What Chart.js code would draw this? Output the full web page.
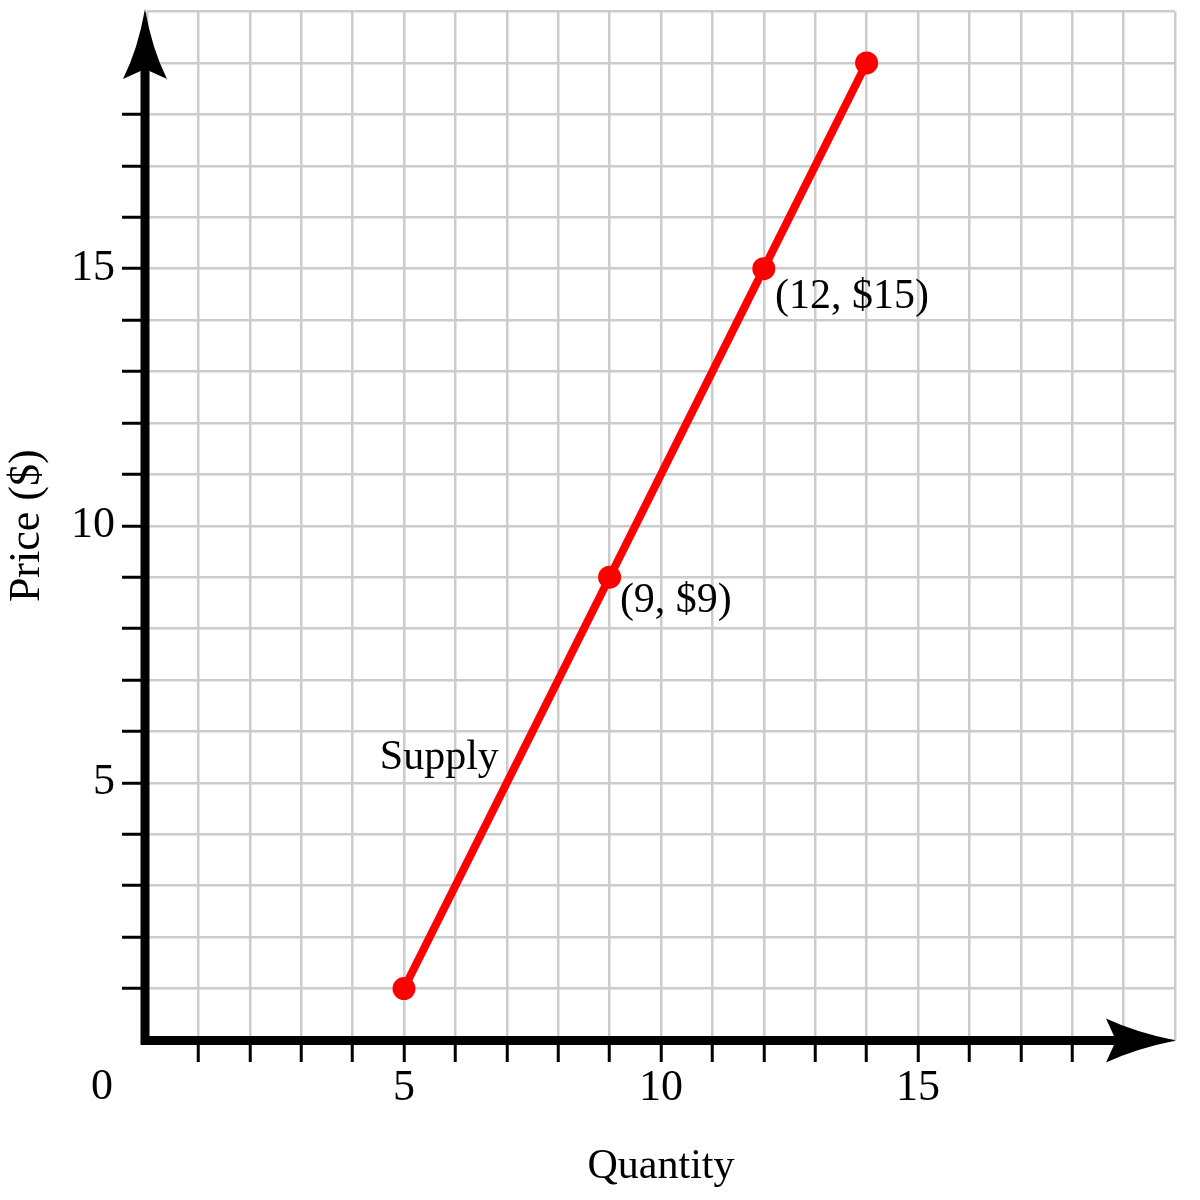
<!DOCTYPE html>
<html><head><meta charset="utf-8">
<script src="https://cdn.jsdelivr.net/npm/chart.js@4"></script>
<style>html,body{margin:0;padding:0;background:#fff}#wrap{width:1200px;height:1200px}</style>
</head><body><div id="wrap"><canvas id="c" width="1200" height="1200"></canvas></div>
<script>
const quantity = [5, 9, 12, 14];
const price = [1, 9, 15, 19];
const xTickLabels = [5, 10, 15];
const yTickLabels = [5, 10, 15];
const annotationText = ['Supply', '(9, $9)', '(12, $15)'];
const annotationX = [4.53, 9.2, 12.22];
const annotationY = [5.49, 8.54, 14.45];
const xTitle = 'Quantity';
const yTitle = 'Price ($)';
const originLabel = '0';

const FONT = '"Liberation Serif", "Times New Roman", serif';

const axesPlugin = {
  id: 'axesArrows',
  afterDatasetsDraw(chart) {
    const {ctx, scales: {x, y}} = chart;
    const x0 = x.getPixelForValue(0) - 2;
    const y0 = y.getPixelForValue(0) + 0.5;
    const xTip = x.getPixelForValue(20) + 1;
    const yTip = y.getPixelForValue(20) - 2.5;
    const L = 70, N = 60, W = 22;
    ctx.save();
    ctx.strokeStyle = '#000';
    ctx.fillStyle = '#000';
    ctx.lineWidth = 9;
    ctx.lineCap = 'butt';
    ctx.beginPath();
    ctx.moveTo(x0, yTip + N);
    ctx.lineTo(x0, y0 + 4.5);
    ctx.moveTo(x0 - 4.5, y0);
    ctx.lineTo(xTip - N, y0);
    ctx.stroke();
    // y arrow
    ctx.beginPath();
    ctx.moveTo(x0, yTip);
    ctx.quadraticCurveTo(x0 - 7, yTip + 40, x0 - W, yTip + L);
    ctx.lineTo(x0, yTip + N);
    ctx.lineTo(x0 + W, yTip + L);
    ctx.quadraticCurveTo(x0 + 7, yTip + 40, x0, yTip);
    ctx.closePath();
    ctx.fill();
    // x arrow
    ctx.beginPath();
    ctx.moveTo(xTip, y0);
    ctx.quadraticCurveTo(xTip - 40, y0 - 8, xTip - L, y0 - W);
    ctx.lineTo(xTip - N, y0);
    ctx.lineTo(xTip - L, y0 + W);
    ctx.quadraticCurveTo(xTip - 40, y0 + 8, xTip, y0);
    ctx.closePath();
    ctx.fill();
    // origin label
    ctx.font = '44px ' + FONT;
    ctx.textAlign = 'center';
    ctx.textBaseline = 'middle';
    ctx.fillText(originLabel, x.getPixelForValue(0) - 45, y.getPixelForValue(0) + 47);
    // annotations
    ctx.font = '42px ' + FONT;
    ctx.textAlign = 'left';
    for (let i = 0; i < annotationText.length; i++) {
      ctx.fillText(annotationText[i], x.getPixelForValue(annotationX[i]), y.getPixelForValue(annotationY[i]));
    }
    ctx.restore();
  }
};

const tickShown = (v) => v >= 1 && v <= 18;

new Chart(document.getElementById('c'), {
  type: 'scatter',
  data: {
    datasets: [{
      data: quantity.map((q, i) => ({x: q, y: price[i]})),
      showLine: true,
      borderColor: '#ff0000',
      backgroundColor: '#ff0000',
      borderWidth: 8,
      pointRadius: 11.5,
      pointHoverRadius: 11.5,
      pointBorderWidth: 0,
      clip: false
    }]
  },
  options: {
    responsive: false,
    animation: false,
    devicePixelRatio: 1,
    layout: {padding: {top: 10, right: 25, left: 0, bottom: 0}},
    plugins: {legend: {display: false}, tooltip: {enabled: false}},
    scales: {
      x: {
        type: 'linear', min: 0, max: 20,
        afterFit(s) { s.height = 160; s.paddingLeft = 0; s.paddingRight = 0; },
        border: {display: false},
        grid: {
          color: '#cccccc', lineWidth: 2.5,
          drawTicks: true, tickLength: 22, tickWidth: 3,
          tickColor: (c) => tickShown(c.tick.value) ? '#000' : 'rgba(0,0,0,0)'
        },
        ticks: {
          stepSize: 1, autoSkip: false, maxRotation: 0, padding: 0,
          color: '#000', font: {family: FONT, size: 44},
          callback: (v) => xTickLabels.includes(v) ? String(v) : ''
        },
        title: {display: true, text: xTitle, color: '#000', font: {family: FONT, size: 42}, padding: {top: 0, bottom: 8}}
      },
      y: {
        type: 'linear', min: 0, max: 20,
        afterFit(s) { s.width = 147; s.paddingTop = 0; s.paddingBottom = 0; },
        border: {display: false},
        grid: {
          color: '#cccccc', lineWidth: 2.5,
          drawTicks: true, tickLength: 25, tickWidth: 3,
          tickColor: (c) => tickShown(c.tick.value) ? '#000' : 'rgba(0,0,0,0)'
        },
        ticks: {
          stepSize: 1, autoSkip: false, padding: 7,
          color: '#000', font: {family: FONT, size: 44},
          callback: (v) => yTickLabels.includes(v) ? String(v) : ''
        },
        title: {display: true, text: yTitle, color: '#000', font: {family: FONT, size: 44}, padding: {top: 1, bottom: 0}}
      }
    }
  },
  plugins: [axesPlugin]
});
</script>
</body></html>
